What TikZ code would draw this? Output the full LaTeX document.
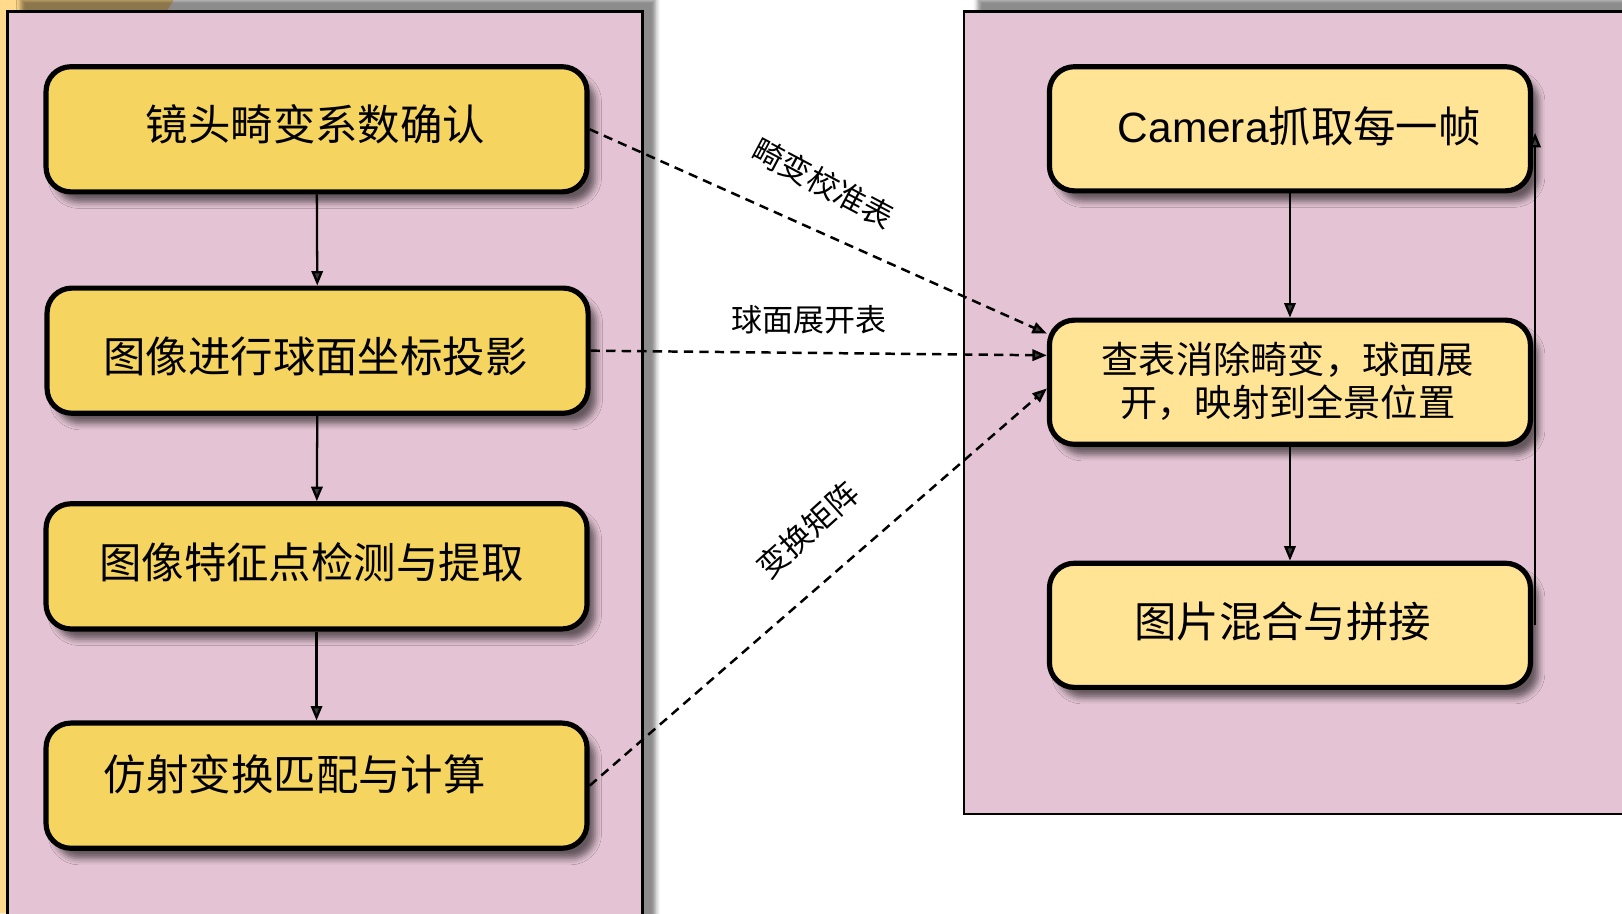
\documentclass[tikz,border=0pt]{standalone}
\usepackage{fontspec}
\setmainfont{Noto Sans CJK SC}
\newfontfamily\latinfont{Liberation Sans}
\usetikzlibrary{arrows.meta,shadows.blur}
\definecolor{panelpink}{RGB}{228,196,212}
\definecolor{leftyellow}{RGB}{245,213,95}
\definecolor{rightyellow}{RGB}{255,228,150}
\definecolor{orangebg}{RGB}{255,217,140}
\begin{document}
\begin{tikzpicture}[x=1pt,y=-1pt,
  every label/.style={font=\fontsize{41}{48}\selectfont, inner sep=0pt},
  boxshadow/.style={blur shadow={shadow xshift=8pt, shadow yshift=-10pt, shadow blur radius=6pt, shadow opacity=55}},
  lbox/.style={draw=black, line width=5pt, rounded corners=24pt, fill=leftyellow,
    minimum width=523pt, minimum height=121pt, inner sep=0pt, boxshadow},
  rbox/.style={draw=black, line width=5pt, rounded corners=24pt, fill=rightyellow,
    minimum width=465pt, minimum height=120pt, inner sep=0pt, boxshadow},
  panel/.style={fill=panelpink, draw=black, line width=2.5pt,
    blur shadow={shadow xshift=13pt, shadow yshift=12pt, shadow blur radius=4pt, shadow opacity=45}},
  flow/.style={line width=2.2pt, -{Triangle[length=14pt,width=11pt]}},
  dflow/.style={line width=2.4pt, dash pattern=on 9pt off 6pt, -{Triangle[length=14pt,width=11pt]}},
  elabel/.style={font=\fontsize{30}{36}\selectfont, inner sep=0pt}]
\useasboundingbox (0,0) rectangle (1568,883);
\clip (0,0) rectangle (1568,883);
% background elements of the slide
\fill[orangebg] (0,0) -- (168,0) -- (158,16) -- (8,16) -- (8,883) -- (0,883) -- cycle;
% panels
\path[panel] (7,11) rectangle (621,920);
\path[panel] (932,11) rectangle (1620,787);
% left column
\node[lbox, label={[xshift=-1pt,yshift=5pt]center:镜头畸变系数确认}] (a1) at (306,125) {};
\node[lbox, label={[xshift=-2pt,yshift=-6pt]center:图像进行球面坐标投影}] (a2) at (307,339) {};
\node[lbox, label={[xshift=-5pt,yshift=4pt]center:图像特征点检测与提取}] (a3) at (306,547.5) {};
\node[lbox, label={[xshift=-21pt,yshift=11pt]center:仿射变换匹配与计算}] (a4) at (306,759.5) {};
% right column
\node[rbox, label={[xshift=9pt,yshift=2pt]center:{\latinfont Camera}抓取每一帧}] (b1) at (1247,124.5) {};
\node[rbox, label={[xshift=-2pt,yshift=1pt,align=center,font=\fontsize{36}{41}\selectfont]center:查表消除畸变，球面展\\开，映射到全景位置}] (b2) at (1247,369.5) {};
\node[rbox, label={[xshift=-7pt,yshift=4pt]center:图片混合与拼接}] (b3) at (1247,604.5) {};
% solid arrows
\draw[flow] (a1) -- (a2);
\draw[flow] (a2) -- (a3);
\draw[flow] (a3) -- (a4);
\draw[flow] (b1) -- (b2);
\draw[flow] (b2) -- (b3);
\draw[flow] ([xshift=2pt]b3.east) -- ([xshift=2pt,yshift=-4pt]b1.east);
% dashed arrows
\draw[dflow] (a1.east) -- ([yshift=47pt]b2.west);
\draw[dflow] (a2.east) -- ([yshift=26pt]b2.west);
\draw[dflow] (a4.east) -- ([yshift=-6pt]b2.west);
% labels
\node[elabel, rotate=-28] (l1) at (796,177) {畸变校准表};
\node[elabel] (l2) at (782,309) {球面展开表};
\node[elabel, rotate=42] (l3) at (781,512) {变换矩阵};
\end{tikzpicture}
\end{document}
